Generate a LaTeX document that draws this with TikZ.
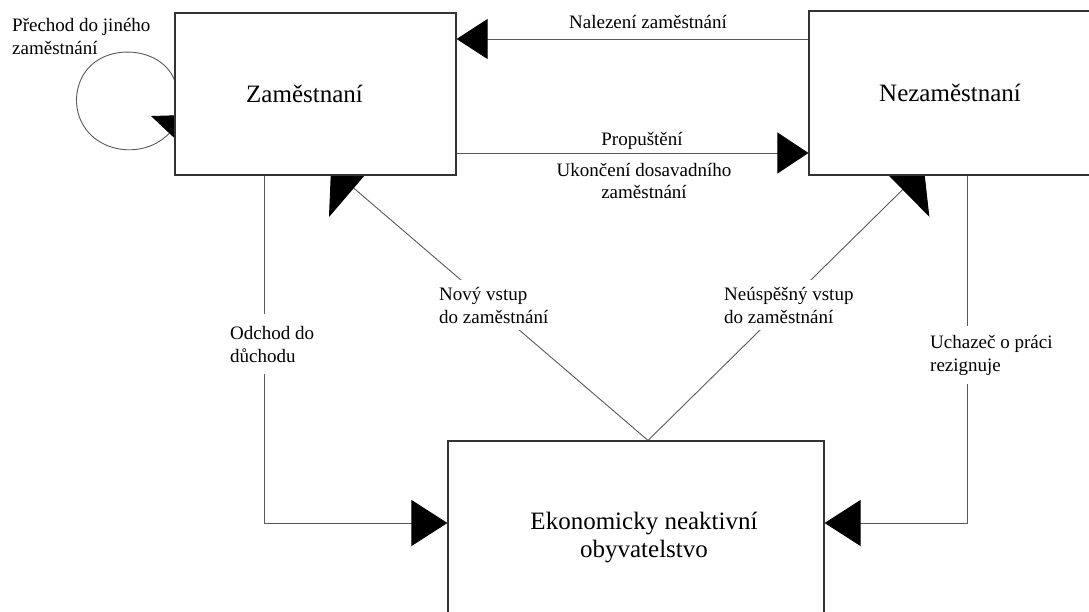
\documentclass[tikz,border=0pt]{standalone}
\usepackage{fontspec}
\setmainfont{Liberation Serif}
\usetikzlibrary{arrows.meta,backgrounds}
\begin{document}
\begin{tikzpicture}[x=1pt,y=-1pt,
 box/.style={draw=black!80,line width=1.2pt,fill=white,rectangle,inner sep=0pt,font=\fontsize{25}{28}\selectfont},
 conn/.style={draw=black!65,line width=0.9pt},
 lbl/.style={font=\fontsize{19}{23}\selectfont,inner sep=0pt,align=left},
 lblw/.style={lbl,fill=white,inner xsep=3pt,inner ysep=8pt},
 lblc/.style={font=\fontsize{19}{22}\selectfont,inner sep=0pt,align=center},
 ]
\useasboundingbox (0,0) rectangle (1089,612);
% boxes
\node[box,minimum width=281pt,minimum height=162pt] (zam) at (315.5,94) {\hspace*{-22pt}Zaměstnaní};
\node[box,minimum width=286pt,minimum height=164pt] (nez) at (952,93) {\hspace*{-4pt}Nezaměstnaní};
\node[box,minimum width=376pt,minimum height=194pt,align=center] (ek) at (636,538) {\hspace*{16pt}Ekonomicky neaktivní\\\hspace*{16pt}obyvatelstvo};
% labels (base anchor = baseline of the last line)
\node[lbl,anchor=base west] (l1) at (12,55) {Přechod do jiného\\zaměstnání};
\node[lblc,anchor=base] (l2) at (648,29) {Nalezení zaměstnání};
\node[lblc,anchor=base] (l3) at (642,146) {Propuštění};
\node[lblc,anchor=base] (l4) at (644,199) {Ukončení dosavadního\\zaměstnání};
\node[lblw,anchor=base west,inner ysep=12pt] (l5) at (227,362) {Odchod do\\důchodu};
\node[lblw,anchor=base west,inner ysep=7pt] (l6) at (436,323) {Nový vstup\\do zaměstnání};
\node[lblw,anchor=base west,inner ysep=7pt] (l7) at (721,323) {Neúspěšný vstup\\do zaměstnání};
\node[lblw,anchor=base west,inner ysep=9pt] (l8) at (927,371) {Uchazeč o práci\\rezignuje};
% connectors
\begin{scope}[on background layer]
\draw[conn,-{Triangle[length=31pt,width=40pt,color=black]}] ([yshift=54pt]nez.west) -- ([yshift=55pt]zam.east);
\draw[conn,-{Triangle[length=31pt,width=41pt,color=black]}] ([yshift=-59pt]zam.east) -- ([yshift=-60pt]nez.west);
\draw[conn,-{Triangle[length=30pt,width=76pt,color=black]}] ([xshift=12pt]ek.north) -- ([xshift=15.5pt,yshift=7pt]zam.south);
\draw[conn,-{Triangle[length=30pt,width=76pt,color=black]}] ([xshift=12pt]ek.north) -- ([xshift=-28pt,yshift=7pt]nez.south);
\draw[conn,-{Triangle[length=36pt,width=46pt,color=black]}] ([xshift=-51pt]zam.south) |- ([yshift=15pt]ek.west);
\draw[conn,-{Triangle[length=36pt,width=46pt,color=black]}] ([xshift=15pt]nez.south) |- ([yshift=15pt]ek.east);
\draw[conn,-{Triangle[length=25pt,width=50pt,color=black]}] ([yshift=14pt]zam.west) .. controls +(-15,-40) and +(3,-59) .. ++(-98,19) .. controls +(0,51) and +(-47,50) .. ([xshift=12pt,yshift=-21pt]zam.west);
\end{scope}
\end{tikzpicture}
\end{document}
